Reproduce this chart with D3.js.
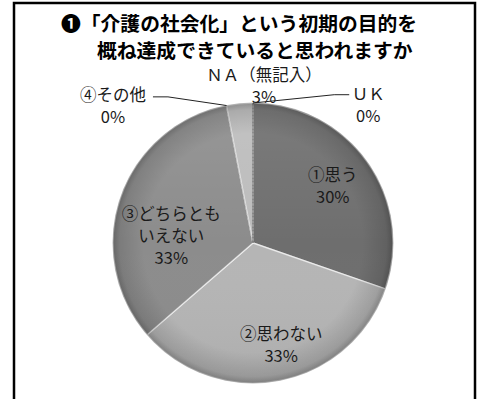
<!DOCTYPE html>
<html>
<head>
<meta charset="utf-8">
<script src="https://cdn.jsdelivr.net/npm/d3@7"></script>
<style>
  body { margin: 0; background: #fff; }
  svg { display: block; }
</style>
</head>
<body>
<svg id="chart" width="481" height="399"></svg>
<script>
// Survey answers, in pie order (clockwise from 12 o'clock)
const categories = ["①思う", "②思わない", "③どちらとも\nいえない", "④その他", "ＮＡ（無記入）", "ＵＫ"];
const values = [30, 33, 33, 0, 3, 0];
const titleLines = ["❶「介護の社会化」という初期の目的を", "概ね達成できていると思われますか"];

const W = 481, H = 399;
const cx = 253, cy = 243, R = 140;
const FONT = "'Noto Sans CJK JP', 'Noto Sans', sans-serif";

const svg = d3.select("#chart");

// frame
svg.append("rect")
  .attr("x", 14).attr("y", 3)
  .attr("width", 461).attr("height", H + 10)
  .attr("fill", "#fff").attr("stroke", "#000").attr("stroke-width", 2.5);

// title
const title = svg.append("g").attr("font-family", FONT).attr("font-weight", "bold")
  .attr("font-size", 19.8).attr("fill", "#000");
title.append("text").attr("x", 61).attr("y", 31).text(titleLines[0]);
title.append("text").attr("x", 97).attr("y", 58).text(titleLines[1]);

const data = categories.map((c, i) => ({ name: c, value: values[i] }));

const color = d3.scaleOrdinal()
  .domain(categories)
  .range(["#6e6e6e", "#b5b5b5", "#8c8c8c", "#7d7d7d", "#bcbcbc", "#9a9a9a"]);

const pie = d3.pie().sort(null).value(d => d.value).startAngle(0).endAngle(2 * Math.PI);
const arcs = pie(data);
const arc = d3.arc().innerRadius(0).outerRadius(R);

const defs = svg.append("defs");
const rim = defs.append("radialGradient").attr("id", "rim")
  .attr("cx", "50%").attr("cy", "50%").attr("r", "50%");
rim.append("stop").attr("offset", "0.78").attr("stop-color", "#000").attr("stop-opacity", 0);
rim.append("stop").attr("offset", "0.95").attr("stop-color", "#000").attr("stop-opacity", 0.12);
rim.append("stop").attr("offset", "1").attr("stop-color", "#000").attr("stop-opacity", 0.28);

const shine = defs.append("linearGradient").attr("id", "shine")
  .attr("x1", "0").attr("y1", "0").attr("x2", "0").attr("y2", "1");
shine.append("stop").attr("offset", "0").attr("stop-color", "#fff").attr("stop-opacity", 0.10);
shine.append("stop").attr("offset", "0.5").attr("stop-color", "#fff").attr("stop-opacity", 0);
shine.append("stop").attr("offset", "1").attr("stop-color", "#000").attr("stop-opacity", 0.05);

const pieG = svg.append("g").attr("transform", `translate(${cx},${cy})`);

pieG.selectAll("path.slice")
  .data(arcs)
  .join("path")
  .attr("class", "slice")
  .attr("d", arc)
  .attr("fill", d => color(d.data.name))
  .attr("stroke", d => d.data.value === 0 ? "#555" : "rgba(255,255,255,0.6)")
  .attr("stroke-width", d => d.data.value === 0 ? 1 : 1.4)
  .attr("stroke-dasharray", d => d.data.value === 0 ? "2 1.5" : null)
  .attr("stroke-linejoin", "round");

pieG.append("circle").attr("r", R).attr("fill", "url(#shine)");
pieG.append("circle").attr("r", R + 0.5).attr("fill", "url(#rim)");

// label placement: polar angle (degrees clockwise from top) and distance from centre
const placement = {
  "①思う": { a: 54.5, r: 98 },
  "②思わない": { a: 164.6, r: 106 },
  "③どちらとも\nいえない": { a: 275.2, r: 82 },
  "④その他": { a: 314.4, r: 196 },
  "ＮＡ（無記入）": { a: 4.0, r: 157 },
  "ＵＫ": { a: 39.8, r: 180 }
};
const polar = (a, r) => [r * Math.sin(a * Math.PI / 180), -r * Math.cos(a * Math.PI / 180)];

const labels = pieG.append("g").attr("font-family", FONT).attr("font-size", 16.5)
  .attr("fill", "#1a1a1a").attr("text-anchor", "middle");

const LH = 22;
arcs.forEach(d => {
  const p = placement[d.data.name];
  const [lx, ly] = polar(p.a, p.r);
  const lines = d.data.name.split("\n").concat([d.data.value + "%"]);
  const n = lines.length;
  const t = labels.append("text");
  lines.forEach((s, i) => {
    t.append("tspan")
      .attr("x", lx)
      .attr("y", ly + (i - (n - 1) / 2) * LH + 6)
      .text(s);
  });

  // leader lines for the small outside slices
  if (p.r > R) {
    const edge = polar((d.startAngle + d.endAngle) / 2 * 180 / Math.PI, R);
    let pts = null;
    if (d.data.name === "④その他") {
      pts = [[lx + 40, ly - 9], [lx + 55, ly - 9], edge];
    } else if (d.data.name === "ＵＫ") {
      pts = [[lx - 19, ly - 10], [lx - 34, ly - 10], edge];
    }
    if (pts) {
      pieG.append("path")
        .attr("d", d3.line()(pts))
        .attr("fill", "none").attr("stroke", "#222").attr("stroke-width", 1);
    }
  }
});
</script>
</body>
</html>
